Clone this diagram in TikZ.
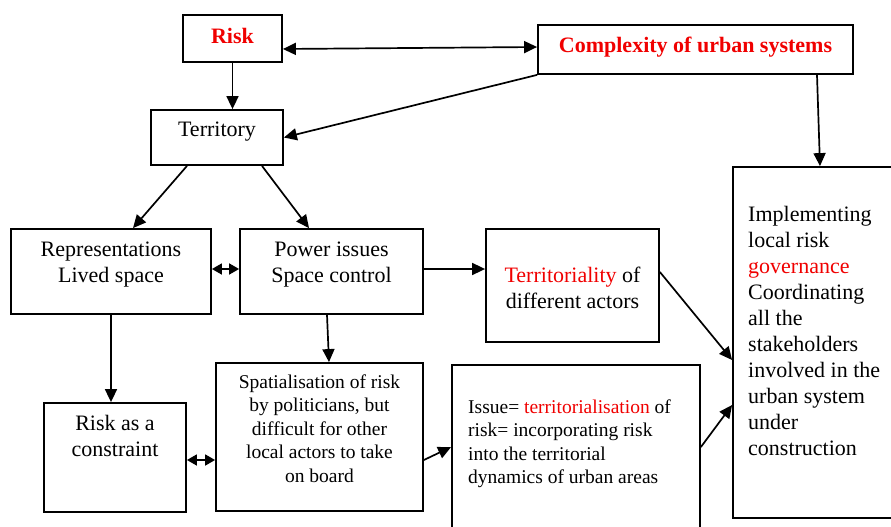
\documentclass[tikz,border=0pt]{standalone}
\usepackage{fontspec}
\setmainfont{Liberation Serif}
\usetikzlibrary{arrows.meta}
\definecolor{hred}{RGB}{240,0,0}
\tikzset{
  box/.style={draw, line width=1.8pt, inner sep=0pt},
  lbl/.style={inner sep=0pt, font=\fontsize{22}{26}\selectfont},
  slbl/.style={inner sep=0pt, font=\fontsize{19.5}{23.5}\selectfont},
  arr/.style={line width=1.7pt, -{Triangle[length=13pt,width=12pt]}},
  dbl/.style={line width=1.7pt, {Triangle[length=13pt,width=12pt]}-{Triangle[length=13pt,width=12pt]}},
  sdbl/.style={line width=1.7pt, {Triangle[length=10pt,width=11pt]}-{Triangle[length=10pt,width=11pt]}},
}
\begin{document}
\begin{tikzpicture}[x=1pt,y=-1pt]
\useasboundingbox (0,0) rectangle (891,527);
\clip (0,0) rectangle (891,527);
% boxes
\node[box, minimum width=99pt, minimum height=47pt] (risk) at (232.5,38.5) {};
\node[box, minimum width=315pt, minimum height=49pt] (cplx) at (695.5,49.5) {};
\node[box, minimum width=132pt, minimum height=55pt] (terr) at (217,137.5) {};
\node[box, minimum width=200pt, minimum height=85pt] (repr) at (111,271.5) {};
\node[box, minimum width=183pt, minimum height=85pt] (power) at (331.5,271.5) {};
\node[box, minimum width=173pt, minimum height=113pt] (terl) at (572.5,285.5) {};
\node[box, minimum width=172pt, minimum height=351pt] (impl) at (819,342.5) {};
\node[box, minimum width=142pt, minimum height=109pt] (cons) at (115,457.5) {};
\node[box, minimum width=207pt, minimum height=148pt] (spat) at (319.5,437) {};
\node[box, minimum width=248pt, minimum height=205pt] (issue) at (576,467.5) {};
% texts
\node[lbl, anchor=north, text=hred, font=\fontsize{22}{26}\selectfont\bfseries] (risktxt) at (232.5,28) {Risk};
\node[lbl, anchor=north, text=hred, font=\fontsize{22}{26}\selectfont\bfseries] (cplxtxt) at (695.5,37) {Complexity of urban systems};
\node[lbl, anchor=north] (terrtxt) at (217,122) {Territory};
\node[lbl, anchor=north, align=center] (reprtxt) at (111,242) {Representations\\Lived space};
\node[lbl, anchor=north, align=center] (powertxt) at (331.5,242) {Power issues\\Space control};
\node[lbl, anchor=north, align=center] (terltxt) at (572.5,267) {\textcolor{hred}{Territoriality} of\\different actors};
\node[lbl, anchor=north west, align=left] (impltxt) at (748,206) {Implementing\\local risk\\\textcolor{hred}{governance}\\Coordinating\\all the\\stakeholders\\involved in the\\urban system\\under\\construction};
\node[lbl, anchor=north, align=center] (constxt) at (115,415) {Risk as a\\constraint};
\node[slbl, anchor=north, align=center] (spattxt) at (319.5,374.5) {Spatialisation of risk\\by politicians, but\\difficult for other\\local actors to take\\on board};
\node[slbl, anchor=north west, align=left] (issuetxt) at (468,399.5) {Issue= \textcolor{hred}{territorialisation} of\\risk= incorporating risk\\into the territorial\\dynamics of urban areas};
% connectors
\draw[dbl] (risk.east |- 0,49) -- (cplx.west |- 0,47);
\draw[arr] (risk.south) -- (risk.south |- terr.north);
\draw[arr] (cplx.south west) -- (terr.east);
\draw[arr] (cplx.south -| 817,0) -- (impl.north -| 820,0);
\draw[arr] (terr.south -| 187,0) -- (repr.north -| 133,0);
\draw[arr] (terr.south -| 262,0) -- (power.north -| 309,0);
\draw[sdbl] (repr.east |- 0,269) -- (power.west |- 0,269);
\draw[arr] (power.east |- 0,269) -- (terl.west |- 0,269);
\draw[arr] (repr.south) -- (repr.south |- cons.north);
\draw[arr] (power.south -| 327,0) -- (spat.north -| 329,0);
\draw[sdbl] (cons.east |- 0,460) -- (spat.west |- 0,460);
\draw[arr] (spat.east |- 0,460) -- (issue.west |- 0,447);
\draw[arr] (terl.east |- 0,272) -- (impl.west |- 0,360);
\draw[arr] (issue.east |- 0,447) -- (impl.west |- 0,405);
\end{tikzpicture}
\end{document}
